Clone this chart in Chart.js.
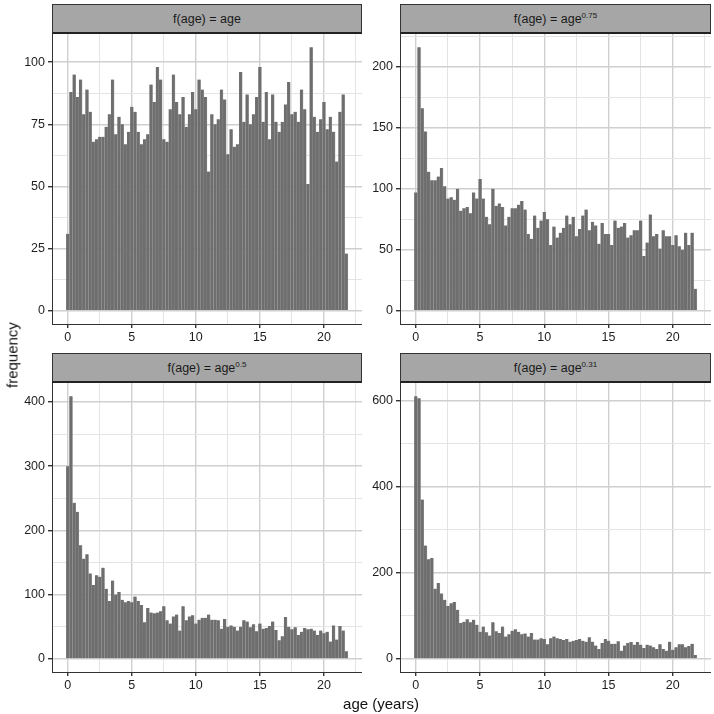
<!DOCTYPE html>
<html>
<head>
<meta charset="utf-8">
<script src="https://cdn.jsdelivr.net/npm/chart.js@4/dist/chart.umd.min.js"></script>
<style>
  body { margin: 0; background: #fff; font-family: "Liberation Sans", Arial, sans-serif; }
  #wrap { position: relative; width: 714px; height: 714px; overflow: hidden; }
  canvas { position: absolute; }
  .strip {
    position: absolute; height: 30px; background: #a6a6a6;
    border: 1px solid #333; border-bottom: 2px solid #222; box-sizing: border-box;
    text-align: center; font-size: 12.5px; line-height: 28px; color: #1a1a1a;
  }
  .strip sup { font-size: 8px; vertical-align: 0; position: relative; top: -5px; }
  .title { position: absolute; font-size: 15px; color: #111; white-space: nowrap; }
</style>
</head>
<body>
<div id="wrap">
  <div class="strip" style="left:52px;top:4px;width:310px;">f(age) = age</div>
  <div class="strip" style="left:400px;top:4px;width:311px;">f(age) = age<sup>0.75</sup></div>
  <div class="strip" style="left:52px;top:353px;width:310px;">f(age) = age<sup>0.5</sup></div>
  <div class="strip" style="left:400px;top:353px;width:311px;">f(age) = age<sup>0.31</sup></div>
  <canvas id="p1" width="362" height="312" style="left:0;top:34px;"></canvas>
  <canvas id="p2" width="363" height="312" style="left:348px;top:34px;"></canvas>
  <canvas id="p3" width="362" height="311" style="left:0;top:383px;"></canvas>
  <canvas id="p4" width="363" height="311" style="left:348px;top:383px;"></canvas>
  <div class="title" style="left:12px;top:355px;transform:translate(-50%,-50%) rotate(-90deg);">frequency</div>
  <div class="title" style="left:381px;top:703px;transform:translate(-50%,-50%);">age (years)</div>
</div>
<script>
// histogram counts, bin width 0.25 years, bins centred on 0, 0.25, ... 21.75
var BIN_WIDTH = 0.25;
var freqAge = [31,88,95,86,93,79,89,80,68,69,
  70,70,74,79,93,71,78,75,67,72,
  82,80,72,67,69,71,91,84,98,93,
  69,68,81,95,84,79,86,74,79,88,
  81,93,89,86,56,79,75,77,89,85,
  63,73,66,67,96,76,87,75,79,86,
  98,76,88,69,87,76,72,76,83,92,
  79,80,76,89,81,51,106,78,72,77,
  84,73,78,72,60,80,87,23];
var freqAge075 = [97,216,166,147,114,107,107,110,117,102,
  92,93,91,100,82,84,85,80,97,92,
  108,92,77,71,100,86,88,85,70,77,
  84,84,87,90,83,63,59,78,68,74,
  81,75,54,69,60,64,68,78,71,77,
  61,67,78,83,66,73,70,55,72,63,
  63,54,74,68,69,72,60,62,66,66,
  74,45,56,79,61,63,51,66,61,61,
  54,62,53,50,64,54,64,18];
var freqAge05 = [300,409,243,229,177,156,163,133,115,130,
  128,142,109,90,122,100,104,92,88,90,
  88,97,90,84,57,79,72,71,72,74,
  82,60,55,66,69,44,82,60,66,68,
  55,61,64,64,69,61,61,60,47,62,
  50,52,50,44,50,60,58,49,54,43,
  55,47,48,51,58,45,29,35,65,50,
  46,49,37,42,48,46,47,44,37,44,
  40,42,27,52,30,51,44,12];
var freqAge031 = [610,605,370,263,231,234,163,176,152,137,
  123,129,132,114,83,86,92,85,91,79,
  63,75,62,54,85,64,60,75,52,57,
  65,69,63,57,59,52,60,45,45,48,
  46,34,48,52,48,46,44,46,40,42,
  44,46,42,40,50,40,31,23,37,46,
  42,35,35,41,19,31,37,39,33,39,
  33,25,33,31,27,23,34,23,19,40,
  21,27,34,34,27,30,35,9];
var xTickLabels = [0, 5, 10, 15, 20];

var tickFont = { family: "'Liberation Sans', Arial, sans-serif", size: 12.5 };
var majorGrid = "#cfcfcf", minorGrid = "#e4e4e4";

function isMajor(v, step) {
  return Math.abs(v / step - Math.round(v / step)) < 1e-6;
}
function tickMajor(c, step) {
  return c.tick ? isMajor(c.tick.value, step) : true;
}

function makePanel(id, counts, yMin, yMax, yMajor) {
  var yMinor = yMajor / 2;
  var yTicks = [];
  for (var v = 0; v <= yMax; v += yMinor) yTicks.push(v);
  var xTicks = [];
  for (var x = 0; x <= 22.9; x += 2.5) xTicks.push(x);

  var pts = counts.map(function (c, i) { return { x: i * BIN_WIDTH, y: c }; });

  new Chart(document.getElementById(id).getContext("2d"), {
    type: "bar",
    data: {
      datasets: [{
        data: pts,
        backgroundColor: "#6e6e6e",
        borderColor: "#959595",
        borderWidth: { left: 0, right: 0.6, top: 0, bottom: 0 },
        borderSkipped: false,
        barPercentage: 1,
        categoryPercentage: 1,
      }],
    },
    options: {
      responsive: false,
      animation: false,
      layout: { padding: 0 },
      plugins: { legend: { display: false }, tooltip: { enabled: false } },
      scales: {
        x: {
          type: "linear", min: -1.225, max: 22.975, offset: false,
          afterBuildTicks: function (s) { s.ticks = xTicks.map(function (v) { return { value: v }; }); },
          afterFit: function (s) { s.height = 22; s.paddingLeft = 0; s.paddingRight = 0; },
          ticks: {
            autoSkip: false, maxRotation: 0, padding: 2, font: tickFont, color: "#1f1f1f",
            callback: function (v) { return xTickLabels.indexOf(v) >= 0 ? String(v) : ""; },
          },
          grid: {
            offset: false,
            color: function (c) { return tickMajor(c, 5) ? majorGrid : minorGrid; },
            lineWidth: function (c) { return tickMajor(c, 5) ? 1.4 : 1; },
            tickLength: 4,
            tickColor: function (c) { return tickMajor(c, 5) ? "#333" : "rgba(0,0,0,0)"; },
          },
          border: { color: "#333", width: 1 },
        },
        y: {
          min: yMin, max: yMax,
          afterBuildTicks: function (s) { s.ticks = yTicks.map(function (v) { return { value: v }; }); },
          afterFit: function (s) { s.width = 52; s.paddingTop = 0; s.paddingBottom = 0; },
          ticks: {
            padding: 3, font: tickFont, color: "#1f1f1f",
            callback: function (v) { return isMajor(v, yMajor) ? String(v) : ""; },
          },
          grid: {
            offset: false,
            color: function (c) { return tickMajor(c, yMajor) ? majorGrid : minorGrid; },
            lineWidth: function (c) { return tickMajor(c, yMajor) ? 1.4 : 1; },
            tickLength: 4,
            tickColor: function (c) { return tickMajor(c, yMajor) ? "#333" : "rgba(0,0,0,0)"; },
          },
          border: { color: "#333", width: 1 },
        },
      },
    },
  });
}

makePanel("p1", freqAge, -5.3, 111.3, 25);
makePanel("p2", freqAge075, -10.8, 226.8, 50);
makePanel("p3", freqAge05, -20.5, 429.5, 100);
makePanel("p4", freqAge031, -30.5, 640.5, 200);
</script>
</body>
</html>
